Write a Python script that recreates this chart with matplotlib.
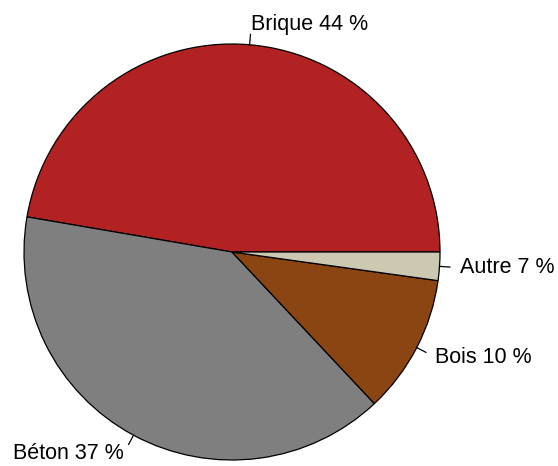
import numpy as np
import matplotlib.pyplot as plt

# slice sizes as drawn (labels carry the printed percentages)
categories = ["Brique", "Béton", "Bois", "Autre"]
shares = [47.3, 39.7, 10.8, 2.2]
label_texts = ["Brique 44 %", "Béton 37 %", "Bois 10 %", "Autre 7 %"]
colors = ["#B22222", "#7F7F7F", "#8B4513", "#CDC8B1"]

plt.rcParams['font.family'] = ['Liberation Sans', 'DejaVu Sans']

fig = plt.figure(figsize=(5.58, 4.66), dpi=100)
ax = fig.add_axes([0, 0, 1, 1])

cx, cy, r = 232, 252, 208
W, H = 558, 466

wedges, _ = ax.pie(shares, colors=colors, startangle=0, counterclock=True,
                   radius=1, center=(0, 0),
                   wedgeprops=dict(edgecolor="black", linewidth=0.9))

total = sum(shares)
start = 0.0
for share, txt in zip(shares, label_texts):
    mid = np.deg2rad(start + share / total * 360 / 2)
    start += share / total * 360
    x, y = np.cos(mid), np.sin(mid)
    ax.plot([x, 1.05 * x], [y, 1.05 * y], color="black", lw=0.9)
    ax.text(1.1 * x, 1.1 * y, txt, fontsize=15.5,
            ha="left" if x > 0 else "right", va="center")

ax.set_xlim(-cx / r, (W - cx) / r)
ax.set_ylim((cy - H) / r, cy / r)
ax.set_aspect("auto")
ax.axis("off")

fig.savefig("out.png", dpi=100)
